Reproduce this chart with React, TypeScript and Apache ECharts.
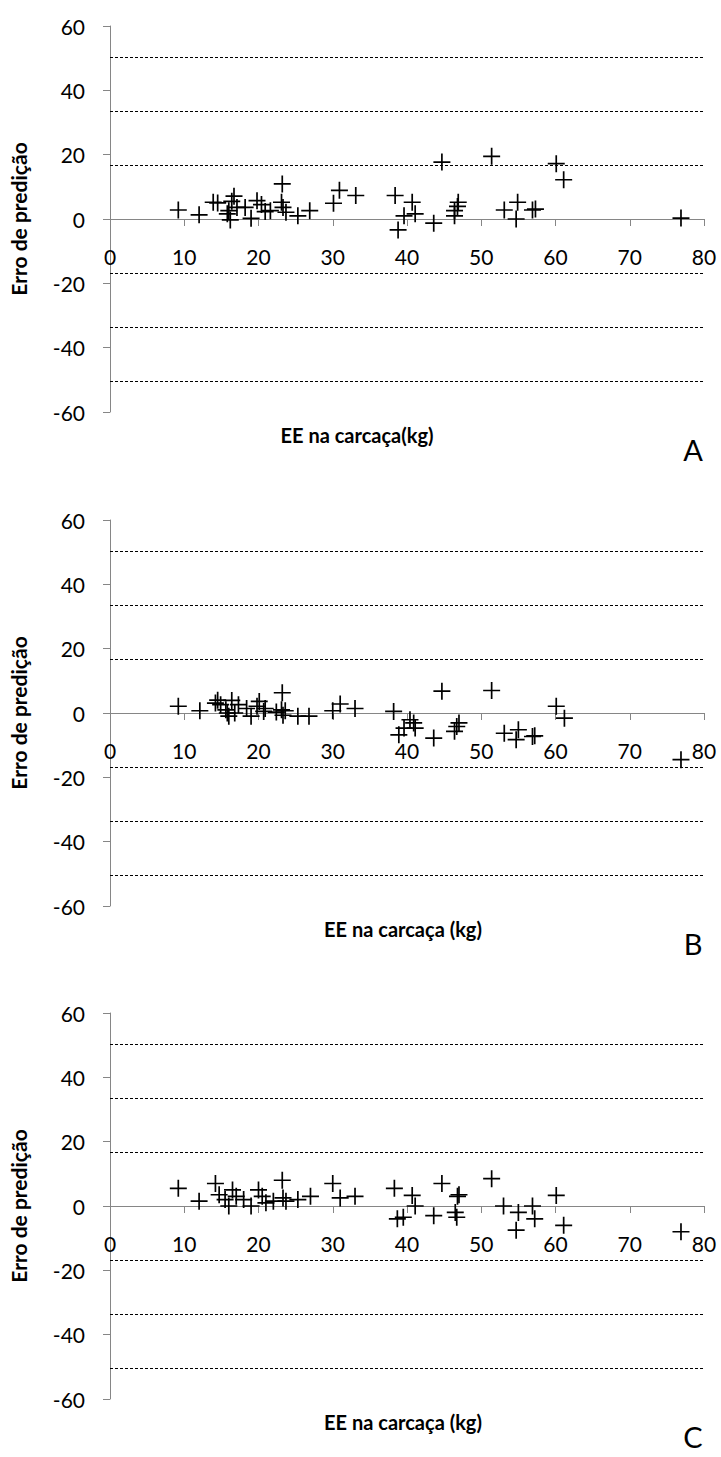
import React, { useEffect, useRef } from "react";
import * as echarts from "echarts";

// Panel A
const xA = [9.2, 12.0, 13.9, 14.5, 15.8, 16.0, 16.2, 16.7, 17.1, 16.4, 18.2, 19.0, 19.8, 20.4, 20.9, 21.6, 23.2, 23.1, 23.3, 23.7, 25.3, 26.9, 30.1, 30.9, 33.1, 38.4, 38.8, 39.6, 40.7, 41.1, 43.6, 44.7, 46.4, 46.4, 46.9, 46.8, 51.4, 53.1, 54.7, 54.9, 56.9, 57.3, 60.1, 61.1, 76.9];
const yA = [2.8, 1.3, 5.2, 5.0, 1.6, 2.6, -0.3, 7.1, 3.6, 5.5, 3.6, 0.2, 5.7, 4.5, 2.3, 2.6, 10.9, 5.2, 3.6, 2.1, 1.0, 2.6, 4.9, 8.9, 7.3, 7.3, -3.4, 1.0, 5.2, 1.6, -1.3, 17.7, 1.0, 2.6, 5.2, 3.9, 19.5, 2.8, 0.0, 5.2, 2.8, 3.1, 17.2, 12.2, 0.3];

// Panel B
const xB = [9.2, 12.1, 14.2, 14.5, 14.9, 15.6, 15.8, 16.0, 16.4, 16.8, 17.3, 18.4, 19.0, 19.8, 20.1, 20.7, 20.9, 22.4, 23.2, 23.1, 23.6, 23.3, 25.3, 26.8, 30.0, 31.0, 33.0, 38.2, 38.9, 39.6, 40.4, 40.9, 41.1, 43.6, 44.7, 46.4, 46.7, 47.0, 51.4, 53.1, 54.7, 55.0, 56.9, 57.2, 60.1, 61.2, 76.9];
const yB = [2.1, 0.7, 3.1, 4.0, 2.6, 1.0, 0.0, -1.0, 3.9, 0.0, 2.6, 1.4, -1.0, 2.1, 3.6, 0.5, 1.4, 0.3, 6.3, 1.0, 0.7, -0.7, -1.0, -1.0, 0.7, 2.8, 1.4, 0.5, -6.8, -4.7, -2.1, -3.1, -4.7, -7.8, 6.8, -5.7, -4.2, -3.1, 7.0, -6.3, -8.3, -5.2, -7.3, -7.1, 2.1, -1.6, -14.5];

// Panel C
const xC = [9.2, 12.0, 14.2, 14.7, 15.5, 16.0, 16.5, 17.0, 18.0, 19.0, 20.0, 20.5, 21.0, 22.0, 23.2, 23.3, 23.7, 25.3, 27.0, 30.0, 31.0, 33.0, 38.3, 38.7, 39.5, 40.7, 41.1, 43.6, 44.7, 46.5, 46.7, 47.0, 46.8, 51.4, 53.0, 54.7, 55.0, 56.9, 57.2, 60.1, 61.1, 76.9];
const yC = [5.5, 1.5, 7.0, 3.5, 2.0, 0.0, 5.0, 3.0, 2.0, 0.0, 5.0, 3.0, 1.0, 1.5, 8.0, 2.5, 1.5, 2.0, 3.0, 7.0, 2.5, 3.0, 5.5, -4.0, -3.5, 3.3, 0.0, -3.0, 7.0, -2.0, -3.5, 3.5, 3.0, 8.5, 0.0, -7.5, -2.0, 0.0, -4.0, 3.3, -6.0, -8.0];

const refLines = [-50.4, -33.6, -16.8, 16.8, 33.6, 50.4];
const yTicks = { min: -60, max: 60, interval: 20 };
const xTicks = { min: 0, max: 80, interval: 10 };
const yTitle = "Erro de predição";
const xTitles = ["EE na carcaça(kg)", "EE na carcaça (kg)", "EE na carcaça (kg)"];
const letters = ["A", "B", "C"];

const FONT = "Lato, 'Open Sans', sans-serif";
const PLUS = "path://M0,7.2 H16 V8.8 H0 Z M7.2,0 H8.8 V16 H7.2 Z";

export default function App() {
  const ref = useRef<HTMLDivElement>(null);
  useEffect(() => {
    if (!ref.current) return;
    const chart = echarts.init(ref.current, null, { renderer: "svg" });
    const panels = [
      { xs: xA, ys: yA },
      { xs: xB, ys: yB },
      { xs: xC, ys: yC },
    ];
    const tops = [26, 520, 1013];
    const H = 386;
    const grids = tops.map((t) => ({ left: 105, width: 599, top: t, height: H }));
    const xAxes = tops.map((_, i) => ({
      type: "value",
      gridIndex: i,
      ...xTicks,
      position: "bottom",
      offset: -H / 2,
      axisLine: { onZero: false, lineStyle: { color: "#868686", width: 1 } },
      axisTick: { show: true, inside: false, length: 7, lineStyle: { color: "#868686" } },
      axisLabel: { color: "#000", fontSize: 21, fontFamily: FONT, margin: 27 },
      splitLine: { show: false },
    }));
    const yAxes = tops.map((_, i) => ({
      type: "value",
      gridIndex: i,
      ...yTicks,
      name: yTitle,
      nameLocation: "middle",
      nameGap: 81,
      nameRotate: 90,
      nameTextStyle: { color: "#000", fontSize: 21, fontWeight: "bold", fontFamily: FONT },
      axisLine: { show: true, lineStyle: { color: "#868686", width: 1 } },
      axisTick: { show: true, inside: false, length: 7, lineStyle: { color: "#868686" } },
      axisLabel: { color: "#000", fontSize: 21, fontFamily: FONT, margin: 25 },
      splitLine: { show: false },
    }));
    const series = panels.map((p, i) => ({
      type: "scatter",
      xAxisIndex: i,
      yAxisIndex: i,
      symbol: PLUS,
      symbolSize: 17,
      itemStyle: { color: "#000", opacity: 1 },
      data: p.xs.map((x, j) => [x, p.ys[j]]),
      markLine: {
        silent: true,
        symbol: "none",
        label: { show: false },
        lineStyle: { color: "#000", type: [3, 2], width: 1 },
        data: refLines.map((v) => ({ yAxis: v })),
      },
    }));
    const titleX = [357, 403, 403];
    const graphics: any[] = [];
    tops.forEach((t, i) => {
      graphics.push({
        type: "text",
        x: titleX[i],
        y: t + H + 23,
        style: {
          text: xTitles[i],
          fill: "#000",
          fontSize: 20,
          fontWeight: "bold",
          fontFamily: FONT,
          textAlign: "center",
          textVerticalAlign: "middle",
        },
      });
      graphics.push({
        type: "text",
        x: 693,
        y: t + H + 37,
        style: {
          text: letters[i],
          fill: "#000",
          fontSize: 29,
          fontFamily: FONT,
          textAlign: "center",
          textVerticalAlign: "middle",
        },
      });
    });
    chart.setOption({
      animation: false,
      backgroundColor: "#fff",
      grid: grids,
      xAxis: xAxes,
      yAxis: yAxes,
      series,
      graphic: graphics,
    } as any);
    return () => chart.dispose();
  }, []);
  return (
    <div
      ref={ref}
      style={{ position: "absolute", left: 0, top: 0, width: 721, height: 1457, background: "#fff" }}
    />
  );
}
